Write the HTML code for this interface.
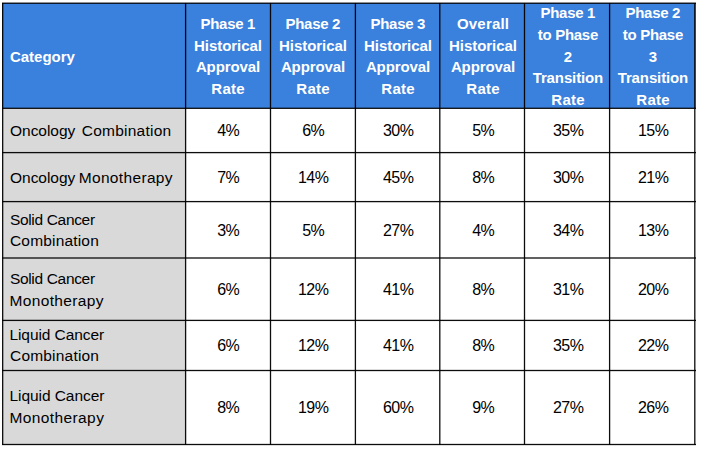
<!DOCTYPE html>
<html><head><meta charset="utf-8"><style>
html,body{margin:0;padding:0;background:#fff;}
body{width:701px;height:449px;overflow:hidden;position:relative;font-family:"Liberation Sans",sans-serif;}
.r{position:absolute;}
.t{position:absolute;white-space:nowrap;line-height:normal;}
</style></head><body>
<div class="r" style="left:2px;top:3px;width:694px;height:105px;background:#3a80dd"></div>
<div class="r" style="left:2px;top:108px;width:183px;height:337px;background:#d9d9d9"></div>
<div class="t" id="hcat" style="left:9.90px;top:48.42px;font-weight:bold;color:#fff;font-size:15px">Category</div>
<div class="t" id="h0_0" style="left:167.85px;width:120px;text-align:center;top:15.42px;font-weight:bold;letter-spacing:-0.300px;color:#fff;font-size:15px">Phase 1</div>
<div class="t" id="h0_1" style="left:167.97px;width:120px;text-align:center;top:36.92px;font-weight:bold;letter-spacing:-0.050px;color:#fff;font-size:15px">Historical</div>
<div class="t" id="h0_2" style="left:167.94px;width:120px;text-align:center;top:58.42px;font-weight:bold;letter-spacing:-0.120px;color:#fff;font-size:15px">Approval</div>
<div class="t" id="h0_3" style="left:168.15px;width:120px;text-align:center;top:79.92px;font-weight:bold;letter-spacing:0.300px;color:#fff;font-size:15px">Rate</div>
<div class="t" id="h1_0" style="left:252.85px;width:120px;text-align:center;top:15.42px;font-weight:bold;letter-spacing:-0.300px;color:#fff;font-size:15px">Phase 2</div>
<div class="t" id="h1_1" style="left:252.98px;width:120px;text-align:center;top:36.92px;font-weight:bold;letter-spacing:-0.050px;color:#fff;font-size:15px">Historical</div>
<div class="t" id="h1_2" style="left:252.94px;width:120px;text-align:center;top:58.42px;font-weight:bold;letter-spacing:-0.120px;color:#fff;font-size:15px">Approval</div>
<div class="t" id="h1_3" style="left:253.15px;width:120px;text-align:center;top:79.92px;font-weight:bold;letter-spacing:0.300px;color:#fff;font-size:15px">Rate</div>
<div class="t" id="h2_0" style="left:337.85px;width:120px;text-align:center;top:15.42px;font-weight:bold;letter-spacing:-0.300px;color:#fff;font-size:15px">Phase 3</div>
<div class="t" id="h2_1" style="left:337.98px;width:120px;text-align:center;top:36.92px;font-weight:bold;letter-spacing:-0.050px;color:#fff;font-size:15px">Historical</div>
<div class="t" id="h2_2" style="left:337.94px;width:120px;text-align:center;top:58.42px;font-weight:bold;letter-spacing:-0.120px;color:#fff;font-size:15px">Approval</div>
<div class="t" id="h2_3" style="left:338.15px;width:120px;text-align:center;top:79.92px;font-weight:bold;letter-spacing:0.300px;color:#fff;font-size:15px">Rate</div>
<div class="t" id="h3_0" style="left:423.09px;width:120px;text-align:center;top:15.42px;font-weight:bold;letter-spacing:0.180px;color:#fff;font-size:15px">Overall</div>
<div class="t" id="h3_1" style="left:422.98px;width:120px;text-align:center;top:36.92px;font-weight:bold;letter-spacing:-0.050px;color:#fff;font-size:15px">Historical</div>
<div class="t" id="h3_2" style="left:422.94px;width:120px;text-align:center;top:58.42px;font-weight:bold;letter-spacing:-0.120px;color:#fff;font-size:15px">Approval</div>
<div class="t" id="h3_3" style="left:423.15px;width:120px;text-align:center;top:79.92px;font-weight:bold;letter-spacing:0.300px;color:#fff;font-size:15px">Rate</div>
<div class="t" id="h4_0" style="left:507.85px;width:120px;text-align:center;top:4.22px;font-weight:bold;letter-spacing:-0.300px;color:#fff;font-size:15px">Phase 1</div>
<div class="t" id="h4_1" style="left:507.86px;width:120px;text-align:center;top:25.82px;font-weight:bold;letter-spacing:-0.280px;color:#fff;font-size:15px">to Phase</div>
<div class="t" id="h4_2" style="left:508.00px;width:120px;text-align:center;top:48.02px;font-weight:bold;color:#fff;font-size:15px">2</div>
<div class="t" id="h4_3" style="left:507.94px;width:120px;text-align:center;top:69.02px;font-weight:bold;letter-spacing:-0.120px;color:#fff;font-size:15px">Transition</div>
<div class="t" id="h4_4" style="left:508.15px;width:120px;text-align:center;top:90.62px;font-weight:bold;letter-spacing:0.300px;color:#fff;font-size:15px">Rate</div>
<div class="t" id="h5_0" style="left:592.85px;width:120px;text-align:center;top:4.22px;font-weight:bold;letter-spacing:-0.300px;color:#fff;font-size:15px">Phase 2</div>
<div class="t" id="h5_1" style="left:592.86px;width:120px;text-align:center;top:25.82px;font-weight:bold;letter-spacing:-0.280px;color:#fff;font-size:15px">to Phase</div>
<div class="t" id="h5_2" style="left:593.00px;width:120px;text-align:center;top:48.02px;font-weight:bold;color:#fff;font-size:15px">3</div>
<div class="t" id="h5_3" style="left:592.94px;width:120px;text-align:center;top:69.02px;font-weight:bold;letter-spacing:-0.120px;color:#fff;font-size:15px">Transition</div>
<div class="t" id="h5_4" style="left:593.15px;width:120px;text-align:center;top:90.62px;font-weight:bold;letter-spacing:0.300px;color:#fff;font-size:15px">Rate</div>
<div class="t" id="c0_0" style="left:10.04px;top:121.97px;letter-spacing:-0.031px;color:#000;font-size:15.5px">Oncology</div>
<div class="t" id="c0_1" style="left:81.80px;top:121.97px;letter-spacing:0.228px;color:#000;font-size:15.5px">Combination</div>
<div class="t" id="d0_0" style="left:168.20px;width:120px;text-align:center;top:121.52px;letter-spacing:-0.600px;color:#000;font-size:16px">4%</div>
<div class="t" id="d0_1" style="left:253.20px;width:120px;text-align:center;top:121.52px;letter-spacing:-0.600px;color:#000;font-size:16px">6%</div>
<div class="t" id="d0_2" style="left:338.20px;width:120px;text-align:center;top:121.52px;letter-spacing:-0.600px;color:#000;font-size:16px">30%</div>
<div class="t" id="d0_3" style="left:423.20px;width:120px;text-align:center;top:121.52px;letter-spacing:-0.600px;color:#000;font-size:16px">5%</div>
<div class="t" id="d0_4" style="left:508.20px;width:120px;text-align:center;top:121.52px;letter-spacing:-0.600px;color:#000;font-size:16px">35%</div>
<div class="t" id="d0_5" style="left:593.20px;width:120px;text-align:center;top:121.52px;letter-spacing:-0.600px;color:#000;font-size:16px">15%</div>
<div class="t" id="c1_0" style="left:10.04px;top:168.97px;letter-spacing:-0.031px;color:#000;font-size:15.5px">Oncology</div>
<div class="t" id="c1_1" style="left:78.67px;top:168.97px;letter-spacing:0.344px;color:#000;font-size:15.5px">Monotherapy</div>
<div class="t" id="d1_0" style="left:168.20px;width:120px;text-align:center;top:168.52px;letter-spacing:-0.600px;color:#000;font-size:16px">7%</div>
<div class="t" id="d1_1" style="left:253.20px;width:120px;text-align:center;top:168.52px;letter-spacing:-0.600px;color:#000;font-size:16px">14%</div>
<div class="t" id="d1_2" style="left:338.20px;width:120px;text-align:center;top:168.52px;letter-spacing:-0.600px;color:#000;font-size:16px">45%</div>
<div class="t" id="d1_3" style="left:423.20px;width:120px;text-align:center;top:168.52px;letter-spacing:-0.600px;color:#000;font-size:16px">8%</div>
<div class="t" id="d1_4" style="left:508.20px;width:120px;text-align:center;top:168.52px;letter-spacing:-0.600px;color:#000;font-size:16px">30%</div>
<div class="t" id="d1_5" style="left:593.20px;width:120px;text-align:center;top:168.52px;letter-spacing:-0.600px;color:#000;font-size:16px">21%</div>
<div class="t" id="c2_0" style="left:9.91px;top:210.97px;letter-spacing:-0.327px;color:#000;font-size:15.5px">Solid Cancer</div>
<div class="t" id="c2_1" style="left:10.01px;top:231.97px;letter-spacing:0.174px;color:#000;font-size:15.5px">Combination</div>
<div class="t" id="d2_0" style="left:168.20px;width:120px;text-align:center;top:221.52px;letter-spacing:-0.600px;color:#000;font-size:16px">3%</div>
<div class="t" id="d2_1" style="left:253.20px;width:120px;text-align:center;top:221.52px;letter-spacing:-0.600px;color:#000;font-size:16px">5%</div>
<div class="t" id="d2_2" style="left:338.20px;width:120px;text-align:center;top:221.52px;letter-spacing:-0.600px;color:#000;font-size:16px">27%</div>
<div class="t" id="d2_3" style="left:423.20px;width:120px;text-align:center;top:221.52px;letter-spacing:-0.600px;color:#000;font-size:16px">4%</div>
<div class="t" id="d2_4" style="left:508.20px;width:120px;text-align:center;top:221.52px;letter-spacing:-0.600px;color:#000;font-size:16px">34%</div>
<div class="t" id="d2_5" style="left:593.20px;width:120px;text-align:center;top:221.52px;letter-spacing:-0.600px;color:#000;font-size:16px">13%</div>
<div class="t" id="c3_0" style="left:9.91px;top:269.97px;letter-spacing:-0.327px;color:#000;font-size:15.5px">Solid Cancer</div>
<div class="t" id="c3_1" style="left:9.47px;top:291.97px;letter-spacing:0.364px;color:#000;font-size:15.5px">Monotherapy</div>
<div class="t" id="d3_0" style="left:168.20px;width:120px;text-align:center;top:280.52px;letter-spacing:-0.600px;color:#000;font-size:16px">6%</div>
<div class="t" id="d3_1" style="left:253.20px;width:120px;text-align:center;top:280.52px;letter-spacing:-0.600px;color:#000;font-size:16px">12%</div>
<div class="t" id="d3_2" style="left:338.20px;width:120px;text-align:center;top:280.52px;letter-spacing:-0.600px;color:#000;font-size:16px">41%</div>
<div class="t" id="d3_3" style="left:423.20px;width:120px;text-align:center;top:280.52px;letter-spacing:-0.600px;color:#000;font-size:16px">8%</div>
<div class="t" id="d3_4" style="left:508.20px;width:120px;text-align:center;top:280.52px;letter-spacing:-0.600px;color:#000;font-size:16px">31%</div>
<div class="t" id="d3_5" style="left:593.20px;width:120px;text-align:center;top:280.52px;letter-spacing:-0.600px;color:#000;font-size:16px">20%</div>
<div class="t" id="c4_0" style="left:9.47px;top:325.97px;letter-spacing:-0.080px;color:#000;font-size:15.5px">Liquid Cancer</div>
<div class="t" id="c4_1" style="left:10.01px;top:347.47px;letter-spacing:0.194px;color:#000;font-size:15.5px">Combination</div>
<div class="t" id="d4_0" style="left:168.20px;width:120px;text-align:center;top:336.52px;letter-spacing:-0.600px;color:#000;font-size:16px">6%</div>
<div class="t" id="d4_1" style="left:253.20px;width:120px;text-align:center;top:336.52px;letter-spacing:-0.600px;color:#000;font-size:16px">12%</div>
<div class="t" id="d4_2" style="left:338.20px;width:120px;text-align:center;top:336.52px;letter-spacing:-0.600px;color:#000;font-size:16px">41%</div>
<div class="t" id="d4_3" style="left:423.20px;width:120px;text-align:center;top:336.52px;letter-spacing:-0.600px;color:#000;font-size:16px">8%</div>
<div class="t" id="d4_4" style="left:508.20px;width:120px;text-align:center;top:336.52px;letter-spacing:-0.600px;color:#000;font-size:16px">35%</div>
<div class="t" id="d4_5" style="left:593.20px;width:120px;text-align:center;top:336.52px;letter-spacing:-0.600px;color:#000;font-size:16px">22%</div>
<div class="t" id="c5_0" style="left:9.47px;top:387.47px;letter-spacing:-0.063px;color:#000;font-size:15.5px">Liquid Cancer</div>
<div class="t" id="c5_1" style="left:9.47px;top:408.97px;letter-spacing:0.394px;color:#000;font-size:15.5px">Monotherapy</div>
<div class="t" id="d5_0" style="left:168.20px;width:120px;text-align:center;top:398.52px;letter-spacing:-0.600px;color:#000;font-size:16px">8%</div>
<div class="t" id="d5_1" style="left:253.20px;width:120px;text-align:center;top:398.52px;letter-spacing:-0.600px;color:#000;font-size:16px">19%</div>
<div class="t" id="d5_2" style="left:338.20px;width:120px;text-align:center;top:398.52px;letter-spacing:-0.600px;color:#000;font-size:16px">60%</div>
<div class="t" id="d5_3" style="left:423.20px;width:120px;text-align:center;top:398.52px;letter-spacing:-0.600px;color:#000;font-size:16px">9%</div>
<div class="t" id="d5_4" style="left:508.20px;width:120px;text-align:center;top:398.52px;letter-spacing:-0.600px;color:#000;font-size:16px">27%</div>
<div class="t" id="d5_5" style="left:593.20px;width:120px;text-align:center;top:398.52px;letter-spacing:-0.600px;color:#000;font-size:16px">26%</div>
<div class="r" style="left:2px;top:2px;width:694px;height:1px;background:rgba(0,0,0,0.43)"></div>
<div class="r" style="left:2px;top:3px;width:694px;height:1px;background:rgba(0,0,0,0.81)"></div>
<div class="r" style="left:2px;top:107px;width:694px;height:1px;background:rgba(0,0,0,0.33)"></div>
<div class="r" style="left:2px;top:108px;width:694px;height:1px;background:rgba(0,0,0,0.90)"></div>
<div class="r" style="left:2px;top:151px;width:694px;height:1px;background:rgba(0,0,0,0.05)"></div>
<div class="r" style="left:2px;top:152px;width:694px;height:1px;background:rgba(0,0,0,0.95)"></div>
<div class="r" style="left:2px;top:153px;width:694px;height:1px;background:rgba(0,0,0,0.24)"></div>
<div class="r" style="left:2px;top:200px;width:694px;height:1px;background:rgba(0,0,0,0.05)"></div>
<div class="r" style="left:2px;top:201px;width:694px;height:1px;background:rgba(0,0,0,0.95)"></div>
<div class="r" style="left:2px;top:202px;width:694px;height:1px;background:rgba(0,0,0,0.24)"></div>
<div class="r" style="left:2px;top:257px;width:694px;height:1px;background:rgba(0,0,0,0.62)"></div>
<div class="r" style="left:2px;top:258px;width:694px;height:1px;background:rgba(0,0,0,0.62)"></div>
<div class="r" style="left:2px;top:319px;width:694px;height:1px;background:rgba(0,0,0,0.24)"></div>
<div class="r" style="left:2px;top:320px;width:694px;height:1px;background:rgba(0,0,0,0.95)"></div>
<div class="r" style="left:2px;top:321px;width:694px;height:1px;background:rgba(0,0,0,0.05)"></div>
<div class="r" style="left:2px;top:369px;width:694px;height:1px;background:rgba(0,0,0,0.14)"></div>
<div class="r" style="left:2px;top:370px;width:694px;height:1px;background:rgba(0,0,0,0.95)"></div>
<div class="r" style="left:2px;top:371px;width:694px;height:1px;background:rgba(0,0,0,0.14)"></div>
<div class="r" style="left:2px;top:443px;width:694px;height:1px;background:rgba(0,0,0,0.14)"></div>
<div class="r" style="left:2px;top:444px;width:694px;height:1px;background:rgba(0,0,0,0.95)"></div>
<div class="r" style="left:2px;top:445px;width:694px;height:1px;background:rgba(0,0,0,0.14)"></div>
<div class="r" style="left:2px;top:3px;width:1px;height:442px;background:rgba(0,0,0,0.93)"></div>
<div class="r" style="left:3px;top:3px;width:1px;height:442px;background:rgba(0,0,0,0.30)"></div>
<div class="r" style="left:184px;top:3px;width:1px;height:442px;background:rgba(0,0,0,0.05)"></div>
<div class="r" style="left:185px;top:3px;width:1px;height:442px;background:rgba(0,0,0,0.95)"></div>
<div class="r" style="left:186px;top:3px;width:1px;height:442px;background:rgba(0,0,0,0.24)"></div>
<div class="r" style="left:269px;top:3px;width:1px;height:442px;background:rgba(0,0,0,0.14)"></div>
<div class="r" style="left:270px;top:3px;width:1px;height:442px;background:rgba(0,0,0,0.95)"></div>
<div class="r" style="left:271px;top:3px;width:1px;height:442px;background:rgba(0,0,0,0.14)"></div>
<div class="r" style="left:354px;top:3px;width:1px;height:442px;background:rgba(0,0,0,0.24)"></div>
<div class="r" style="left:355px;top:3px;width:1px;height:442px;background:rgba(0,0,0,0.95)"></div>
<div class="r" style="left:356px;top:3px;width:1px;height:442px;background:rgba(0,0,0,0.05)"></div>
<div class="r" style="left:439px;top:3px;width:1px;height:442px;background:rgba(0,0,0,0.81)"></div>
<div class="r" style="left:440px;top:3px;width:1px;height:442px;background:rgba(0,0,0,0.43)"></div>
<div class="r" style="left:523px;top:3px;width:1px;height:442px;background:rgba(0,0,0,0.14)"></div>
<div class="r" style="left:524px;top:3px;width:1px;height:442px;background:rgba(0,0,0,0.95)"></div>
<div class="r" style="left:525px;top:3px;width:1px;height:442px;background:rgba(0,0,0,0.14)"></div>
<div class="r" style="left:608px;top:3px;width:1px;height:442px;background:rgba(0,0,0,0.05)"></div>
<div class="r" style="left:609px;top:3px;width:1px;height:442px;background:rgba(0,0,0,0.95)"></div>
<div class="r" style="left:610px;top:3px;width:1px;height:442px;background:rgba(0,0,0,0.24)"></div>
<div class="r" style="left:694px;top:3px;width:1px;height:442px;background:rgba(0,0,0,0.81)"></div>
<div class="r" style="left:695px;top:3px;width:1px;height:442px;background:rgba(0,0,0,0.43)"></div>
</body></html>
